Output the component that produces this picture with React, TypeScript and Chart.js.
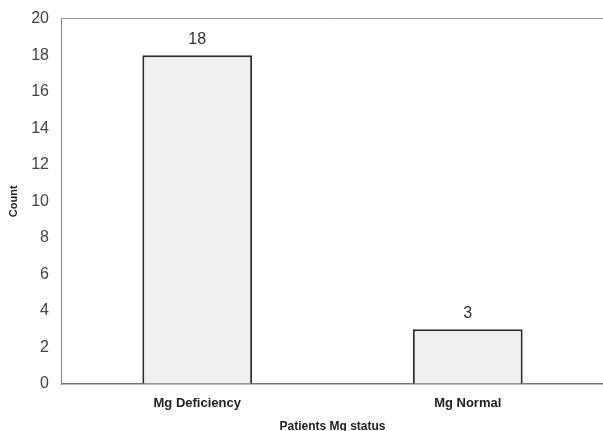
import React, { useEffect, useRef } from "react";
import { Chart, registerables } from "chart.js";

Chart.register(...registerables);

const categories = ["Mg Deficiency", "Mg Normal"];
const counts = [18, 3];
const yTitle = "Count";
const xTitle = "Patients Mg status";

const FONT = "'Liberation Sans', Arial, Helvetica, sans-serif";

const valueLabels = {
  id: "valueLabels",
  afterDatasetsDraw(chart: any) {
    const ctx = chart.ctx;
    const meta = chart.getDatasetMeta(0);
    ctx.save();
    ctx.fillStyle = "#333";
    ctx.font = `16px ${FONT}`;
    ctx.textAlign = "center";
    ctx.textBaseline = "bottom";
    meta.data.forEach((bar: any, i: number) => {
      ctx.fillText(String(chart.data.datasets[0].data[i]), bar.x, bar.y - 8);
    });
    ctx.restore();
  },
};

export default function App() {
  const ref = useRef<HTMLCanvasElement>(null);
  useEffect(() => {
    if (!ref.current) return;
    const chart = new Chart(ref.current, {
      type: "bar",
      data: {
        labels: categories,
        datasets: [
          {
            data: counts,
            backgroundColor: "#f0f0f0",
            borderColor: "#2e2e2e",
            borderWidth: 2,
            borderSkipped: "bottom",
            categoryPercentage: 1,
            barPercentage: 0.406,
          },
        ],
      },
      options: {
        animation: false,
        responsive: false,
        layout: { padding: { left: 7, right: 0, top: 4, bottom: 0 } },
        plugins: { legend: { display: false }, tooltip: { enabled: false } },
        scales: {
          x: {
            grid: { display: false, drawTicks: false },
            border: { display: true, color: "#777", width: 1.5 },
            ticks: {
              color: "#222",
              font: { family: FONT, size: 13, weight: "bold" },
              padding: 12,
            },
            title: {
              display: true,
              text: xTitle,
              color: "#222",
              font: { family: FONT, size: 12, weight: "bold" },
              padding: { top: -4, bottom: -3 },
            },
          },
          y: {
            min: 0,
            max: 20,
            ticks: {
              stepSize: 2,
              color: "#444",
              font: { family: FONT, size: 16, lineHeight: 0.7 },
              padding: 13,
            },
            grid: {
              drawTicks: false,
              color: (c: any) => (c.tick && c.tick.value === 20 ? "#999" : "rgba(0,0,0,0)"),
              lineWidth: 1,
            },
            border: { display: true, color: "#888", width: 1 },
            title: {
              display: true,
              text: yTitle,
              color: "#222",
              font: { family: FONT, size: 11, weight: "bold" },
              padding: { top: 0, bottom: -2 },
            },
          },
        },
      },
      plugins: [valueLabels],
    });
    return () => chart.destroy();
  }, []);
  return (
    <div style={{ position: "fixed", left: 0, top: 0, width: 603, height: 431, background: "#fff" }}>
      <canvas ref={ref} width={603} height={431} style={{ display: "block" }} />
    </div>
  );
}
